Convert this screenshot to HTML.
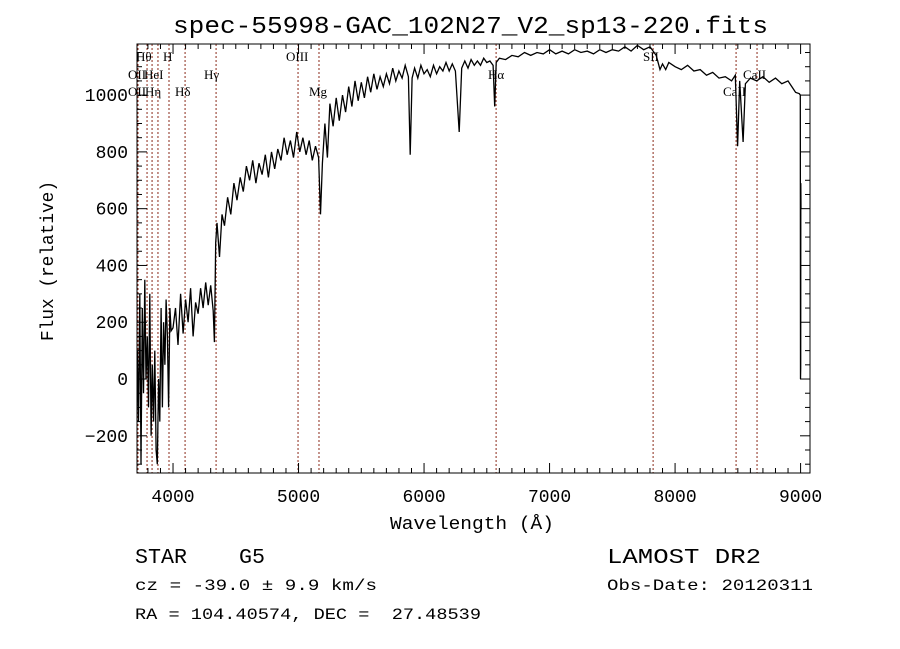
<!DOCTYPE html>
<html><head><meta charset="utf-8"><style>
html,body{margin:0;padding:0;background:#fff;}
svg{display:block;}
text{font-family:"Liberation Mono","DejaVu Sans Mono",monospace;fill:#000;}
.lab{font-family:"Liberation Serif",serif;font-size:13px;}
</style></head><body>
<svg id="chart" width="900" height="649" viewBox="0 0 900 649" xmlns="http://www.w3.org/2000/svg">
<rect width="900" height="649" fill="#fff"/>
<text x="173" y="33" font-size="24" textLength="595" lengthAdjust="spacingAndGlyphs">spec-55998-GAC_102N27_V2_sp13-220.fits</text>
<g id="lines"></g><g id="series"></g><g id="axes"></g>
<text x="390" y="529" font-size="18" textLength="164" lengthAdjust="spacingAndGlyphs">Wavelength (Å)</text>
<text transform="translate(53,341) rotate(-90)" font-size="18" textLength="160" lengthAdjust="spacingAndGlyphs">Flux (relative)</text>
<text x="135" y="563" font-size="21" textLength="130" lengthAdjust="spacingAndGlyphs">STAR&#160;&#160;&#160;&#160;G5</text>
<text x="607" y="563" font-size="21" textLength="154" lengthAdjust="spacingAndGlyphs">LAMOST DR2</text>
<text x="135" y="590" font-size="16" textLength="242" lengthAdjust="spacingAndGlyphs">cz = -39.0 ± 9.9 km/s</text>
<text x="607" y="590" font-size="16" textLength="206" lengthAdjust="spacingAndGlyphs">Obs-Date: 20120311</text>
<text x="135" y="619" font-size="16" textLength="346" lengthAdjust="spacingAndGlyphs">RA = 104.40574, DEC =&#160;&#160;27.48539</text>
</svg>
<script>
const wavelengths=[3715,3725,3735,3745,3755,3765,3775,3785,3795,3805,3815,3825,3835,3845,3855,3865,3875,3885,3895,3905,3915,3925,3935,3945,3955,3965,3975,3985,
4000,4020,4040,4060,4080,4100,4120,4140,4160,4180,4200,4220,4240,4260,4280,4300,4320,4330,4340,4350,4370,4390,
4410,4435,4460,4485,4510,4535,4560,4585,4610,4635,4660,4685,4710,4735,4760,4785,4810,4835,4860,4885,4910,4935,4960,4985,5010,5035,5060,5085,5110,5135,5160,5175,5190,5210,5230,5250,5275,5300,5325,5350,5375,5400,5425,5450,5475,5500,5525,5550,5575,5600,5625,5650,5675,5700,5725,5750,5775,5800,5825,5850,5875,5890,5905,5925,5950,5975,6000,6025,6050,6075,6100,6125,6150,6175,6200,6225,6250,6280,6300,6325,6350,6375,6400,6425,6450,6475,6500,6525,6550,6563,6575,6600,6650,6700,6750,6800,6850,6900,6950,7000,7050,7100,7150,7200,7250,7300,7350,7400,7450,7500,7550,7600,7650,7700,7750,7800,7850,7880,7900,7925,7950,8000,8050,8100,8150,8200,8250,8300,8350,8400,8450,8480,8498,8515,8542,8560,8600,8650,8700,8750,8800,8850,8900,8930,8960,8990,8998,8999,9001,9002,9003];
const fluxes=[100,-150,300,-300,250,-50,350,0,150,-100,300,-200,50,-150,100,-250,-300,0,-150,250,-100,200,50,280,150,-100,250,170,
180,250,120,300,160,280,200,320,150,270,230,320,250,340,260,330,240,130,480,550,430,580,
540,640,580,690,630,710,660,750,700,770,690,760,720,790,710,800,740,810,770,850,790,840,780,870,800,850,790,840,770,820,780,580,760,900,780,970,890,990,910,1000,940,1030,960,1050,980,1045,990,1065,1010,1075,1020,1065,1030,1075,1040,1095,1050,1085,1060,1105,1065,790,1060,1095,1060,1105,1075,1090,1065,1105,1075,1100,1085,1115,1085,1110,1085,870,1095,1120,1095,1125,1105,1120,1105,1130,1115,1120,1105,960,1115,1130,1125,1140,1135,1150,1140,1150,1145,1160,1145,1155,1145,1160,1150,1155,1145,1160,1150,1160,1155,1170,1155,1175,1160,1170,1140,1090,1110,1090,1115,1100,1090,1105,1085,1090,1070,1080,1060,1065,1050,1070,820,1050,835,1040,1060,1050,1065,1045,1060,1040,1050,1030,1010,1005,1000,0,40,690,600];
const lineWaves=[3721,3793,3833,3880,3968,4096,4343,4996,5163,6574,7825,8486,8653];
const lineLabels=[["Hθ",136,61],["H",163,61],["OII",128,79],["HeI",144,79],["OII",128,96],["Hη",145,96],["Hδ",175,96],["Hγ",204,79],["OIII",286,61],["Mg",309,96],["Hα",488,79],["SII",643,61],["CaII",723,96],["CaII",743,79]];
const xTicks=[4000,5000,6000,7000,8000,9000];
const yTicks=[-200,0,200,400,600,800,1000];
const L=137,R=810,T=44,B=473,X0=3713,X1=9075,Y0=-331,Y1=1180;
const sx=w=>L+(w-X0)/(X1-X0)*(R-L);
const sy=f=>B-(f-Y0)/(Y1-Y0)*(B-T);
const NS="http://www.w3.org/2000/svg";
function mk(t,a,p){const e=document.createElementNS(NS,t);for(const k in a)e.setAttribute(k,a[k]);p.appendChild(e);return e;}
const gl=document.getElementById('lines'),gs=document.getElementById('series'),ga=document.getElementById('axes');
lineWaves.forEach(w=>{const e=mk('line',{x1:sx(w),x2:sx(w),y1:T,y2:B,stroke:'#8b2a1a','stroke-width':1,'stroke-dasharray':'2,2'},gl);

});
lineLabels.forEach(l=>{const e=mk('text',{x:l[1],y:l[2],class:'lab'},gl);e.textContent=l[0];

});
const pts=wavelengths.map((w,i)=>sx(w).toFixed(1)+','+sy(fluxes[i]).toFixed(1)).join(' ');
const pl=mk('polyline',{points:pts,fill:'none',stroke:'#000','stroke-width':1.3},gs);


const fr=mk('rect',{x:L,y:T,width:R-L,height:B-T,fill:'none',stroke:'#000','stroke-width':1},ga);


for(let w=3800;w<=X1;w+=100){const x=sx(w),len=(w%1000===0)?10:5;
mk('line',{x1:x,x2:x,y1:B,y2:B-len,stroke:'#000'},ga);mk('line',{x1:x,x2:x,y1:T,y2:T+len,stroke:'#000'},ga);}
for(let f=-300;f<=Y1;f+=50){const y=sy(f),len=(f%200===0)?10:5;
mk('line',{x1:L,x2:L+len,y1:y,y2:y,stroke:'#000'},ga);mk('line',{x1:R,x2:R-len,y1:y,y2:y,stroke:'#000'},ga);}
xTicks.forEach(w=>{const e=mk('text',{x:sx(w),y:502,'font-size':18,'text-anchor':'middle'},ga);e.textContent=w;

});
yTicks.forEach(f=>{const e=mk('text',{x:128,y:sy(f)+6,'font-size':18,'text-anchor':'end'},ga);e.textContent=f<0?'\u2212'+(-f):f;

});
</script>
</body></html>
